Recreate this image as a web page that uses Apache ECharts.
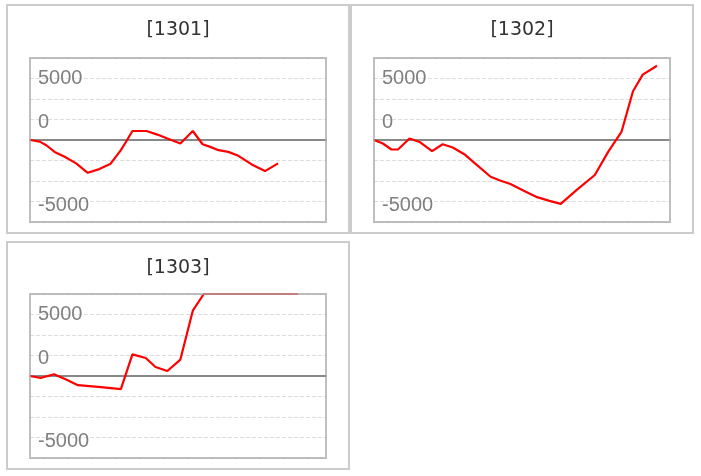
<!DOCTYPE html>
<html><head><meta charset="utf-8">
<script src="https://cdn.jsdelivr.net/npm/echarts@6/dist/echarts.min.js"></script>
<style>
html,body{margin:0;padding:0;background:#fff}
body{width:701px;height:476px;position:relative;overflow:hidden}
.panel{position:absolute;box-sizing:border-box;border:2px solid #cccccc;width:344px;height:230px}
.chart{width:340px;height:226px}
</style></head><body>
<div class="panel" style="left:6px;top:4px"><div class="chart" id="c1"></div></div>
<div class="panel" style="left:350px;top:4px"><div class="chart" id="c2"></div></div>
<div class="panel" style="left:6px;top:241px;height:229px"><div class="chart" id="c3" style="height:225px"></div></div>
<script>
// ---- data ----
const titles = ['[1301]', '[1302]', '[1303]'];

const x1301 = [0, 3.3, 5.5, 8.3, 11.7, 15.6, 19.5, 23.4, 27.1, 30.7, 32.4, 34.6, 39.4, 43.0, 46.4, 50.8, 55.0, 58.3, 60.9, 63.7, 67.0, 70.4, 74.9, 79.4, 83.8];
const y1301 = [0, -200, -640, -1450, -2050, -2850, -4000, -3550, -2940, -1240, -240, 1100, 1100, 660, 180, -430, 1100, -520, -840, -1240, -1450, -1930, -2980, -3790, -2850];

const x1302 = [0, 3.0, 5.9, 8.1, 12.0, 15.4, 19.6, 23.2, 26.6, 30.5, 34.4, 39.4, 42.8, 46.1, 50.6, 55.1, 59.3, 63.1, 68.5, 74.6, 79.1, 83.6, 87.5, 90.8, 95.6];
const y1302 = [0, -430, -1160, -1160, 180, -240, -1360, -520, -920, -1730, -2940, -4480, -4960, -5360, -6180, -6970, -7420, -7790, -6090, -4270, -1450, 980, 5940, 7970, 9060];

const x1303 = [0, 3.6, 8.1, 12.2, 16.2, 24.0, 30.7, 34.6, 39.1, 42.4, 46.4, 50.8, 55.0, 58.7, 90.6];
const y1303 = [0, -240, 210, -430, -1120, -1360, -1610, 2640, 2190, 1100, 610, 2000, 7970, 10000, 10000];

const labelValues = [7500, 2500, -7500];
const labelTexts = ['5000', '0', '-5000'];

// ---- chart ----
function makeOption(title, xs, ys, gridTop, titleTop) {
  const lblBase = {fontFamily: 'Liberation Sans', fontSize: 20, color: '#808080'};
  return {
    animation: false,
    title: {
      text: title, left: 'center', top: titleTop,
      textStyle: {fontFamily: 'DejaVu Sans', fontSize: 19, fontWeight: 'normal', color: '#333'}
    },
    grid: {left: 22, top: gridTop, width: 296, height: 164, show: true, z: 5,
           borderColor: 'rgba(170,170,170,0.75)', borderWidth: 2, backgroundColor: 'transparent'},
    xAxis: {
      type: 'value', min: 0, max: 100,
      axisLine: {onZero: true, lineStyle: {color: '#888', width: 2}},
      axisTick: {show: false}, axisLabel: {show: false}, splitLine: {show: false}
    },
    yAxis: {
      type: 'value', min: -10000, max: 10000, interval: 2500,
      axisLine: {show: false}, axisTick: {show: false},
      splitLine: {lineStyle: {color: '#dddddd', type: 'dashed', width: 1}},
      axisLabel: {
        inside: true, margin: 8,
        formatter: function (v) {
          const i = labelValues.indexOf(v);
          return i < 0 ? '' : '{s' + i + '|' + labelTexts[i] + '}';
        },
        rich: {
          s0: Object.assign({padding: [0, 0, 0, 0]}, lblBase),
          s1: Object.assign({padding: [5, 0, 0, 0]}, lblBase),
          s2: Object.assign({padding: [7, 0, 0, 0]}, lblBase)
        }
      }
    },
    series: [{
      type: 'line', symbol: 'none',
      data: xs.map((x, i) => [x, ys[i]]),
      lineStyle: {color: '#ff0000', width: 2.2},
      itemStyle: {color: '#ff0000'}
    }]
  };
}

echarts.init(document.getElementById('c1')).setOption(makeOption(titles[0], x1301, y1301, 52, 10));
echarts.init(document.getElementById('c2')).setOption(makeOption(titles[1], x1302, y1302, 52, 10));
echarts.init(document.getElementById('c3')).setOption(makeOption(titles[2], x1303, y1303, 51, 11));
</script>
</body></html>
